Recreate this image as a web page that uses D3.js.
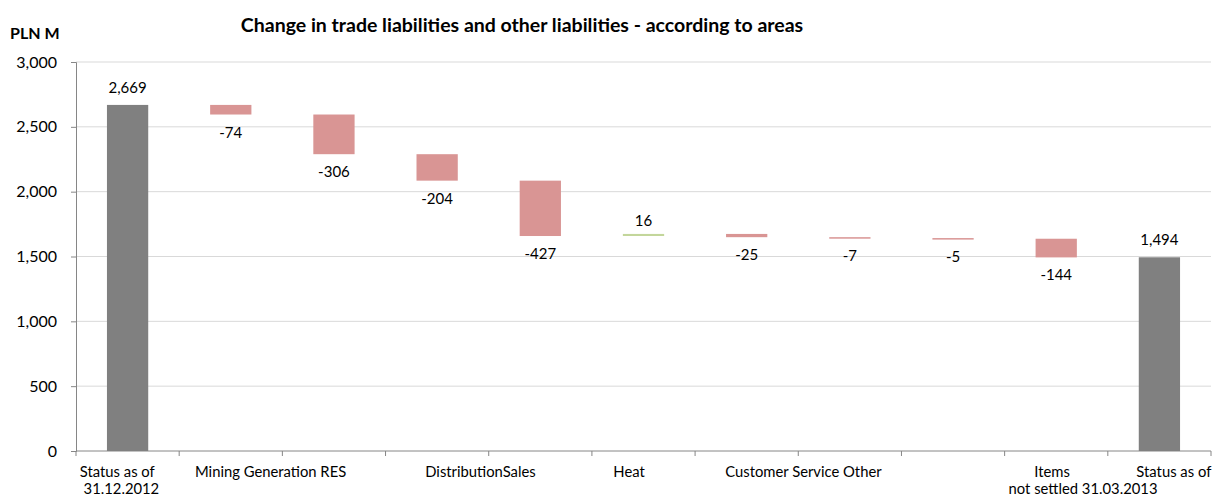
<!DOCTYPE html>
<html>
<head>
<meta charset="utf-8">
<script src="https://cdn.jsdelivr.net/npm/d3@7"></script>
<style>
  body { margin: 0; background: #fff; }
  svg { display: block; font-family: Lato, "Open Sans", sans-serif; }
</style>
</head>
<body>
<div id="chart"></div>
<script>
// categories of the waterfall (first and last are totals)
const categories = ["Status as of 31.12.2012", "Mining", "Generation", "RES", "Distribution",
  "Sales", "Heat", "Customer Service", "Other", "Items not settled", "Status as of 31.03.2013"];
// changes in PLN M (totals given as levels)
const values = [2669, -74, -306, -204, -427, 16, -25, -7, -5, -144, 1494];
const isTotal = [true, false, false, false, false, false, false, false, false, false, true];
const yTicks = [0, 500, 1000, 1500, 2000, 2500, 3000];
// axis labels as they show under the chart
const axisLabels = ["Status as of", "31.12.2012", "Mining Generation RES", "DistributionSales",
  "Heat", "Customer Service Other", "Items", "not settled 31.03.2013", "Status as of"];

const W = 1212, H = 495;
const margin = {top: 62, right: 1, bottom: 44, left: 76};
const width = W - margin.left - margin.right,
      height = H - margin.top - margin.bottom;

const fmt = v => d3.format(",")(v).replace("\u2212", "-");

const svg = d3.select("#chart").append("svg")
  .attr("width", W).attr("height", H);

// title + unit
svg.append("text")
  .attr("x", 522).attr("y", 32)
  .attr("text-anchor", "middle")
  .style("font-weight", "bold").style("font-size", "19.5px")
  .text("Change in trade liabilities and other liabilities - according to areas");
svg.append("text")
  .attr("x", 10).attr("y", 39)
  .style("font-weight", "bold").style("font-size", "16px")
  .text("PLN M");

const g = svg.append("g").attr("transform", `translate(${margin.left},${margin.top})`);

const x = d3.scaleBand().domain(categories).range([0, width]).paddingInner(0.6).paddingOuter(0.3);
const y = d3.scaleLinear().domain([0, 3000]).range([height, 0]);

// build waterfall steps
let run = 0;
const steps = values.map((v, i) => {
  let start, end;
  if (isTotal[i]) { start = 0; end = v; run = v; }
  else { start = run; end = run + v; run = end; }
  return {cat: categories[i], v, start, end, total: isTotal[i]};
});

// gridlines
g.selectAll(".grid").data(yTicks.slice(1)).enter().append("line")
  .attr("x1", 0).attr("x2", width)
  .attr("y1", d => y(d)).attr("y2", d => y(d))
  .attr("stroke", "#d9d9d9").attr("stroke-width", 1);

// y axis
const yAxis = g.append("g")
  .call(d3.axisLeft(y).tickValues(yTicks).tickSize(5).tickPadding(14).tickFormat(fmt));
yAxis.select(".domain").attr("stroke", "#868686");
yAxis.selectAll(".tick line").attr("stroke", "#868686");
yAxis.selectAll("text").style("font-size", "16px").attr("fill", "#000")
  .style("font-family", "Lato, sans-serif");

// x axis line and ticks at band boundaries
const step = width / categories.length;
g.append("line").attr("x1", 0).attr("x2", width).attr("y1", height).attr("y2", height)
  .attr("stroke", "#868686");
g.selectAll(".xtick").data(d3.range(categories.length + 1)).enter().append("line")
  .attr("x1", d => d * step).attr("x2", d => d * step)
  .attr("y1", height).attr("y2", height + 5)
  .attr("stroke", "#868686");

// bars
g.selectAll(".bar").data(steps).enter().append("rect")
  .attr("x", d => x(d.cat))
  .attr("width", x.bandwidth())
  .attr("y", d => y(Math.max(d.start, d.end)))
  .attr("height", d => Math.max(1.5, Math.abs(y(d.start) - y(d.end))))
  .attr("fill", d => d.total ? "#808080" : (d.v > 0 ? "#c3d69b" : "#d99594"));

// value labels
g.selectAll(".val").data(steps).enter().append("text")
  .attr("x", d => x(d.cat) + x.bandwidth() / 2)
  .attr("y", d => d.v >= 0 ? y(d.end) - (d.total ? 12 : 8) : y(d.end) + 23)
  .attr("text-anchor", "middle")
  .style("font-size", "15px")
  .text(d => fmt(d.v));

// category labels as rendered under the axis (positions in band units)
const labelAt = [
  [0.40, 0], [0.44, 1], [1.886, 0], [3.92, 0], [5.36, 0],
  [7.05, 0], [9.46, 0], [9.76, 1], [10.64, 0]
];
g.selectAll(".xl").data(axisLabels).enter().append("text")
  .attr("x", (d, i) => labelAt[i][0] * step)
  .attr("y", (d, i) => height + 26 + labelAt[i][1] * 17)
  .attr("text-anchor", "middle")
  .style("font-size", "14.8px")
  .text(d => d);
</script>
</body>
</html>
